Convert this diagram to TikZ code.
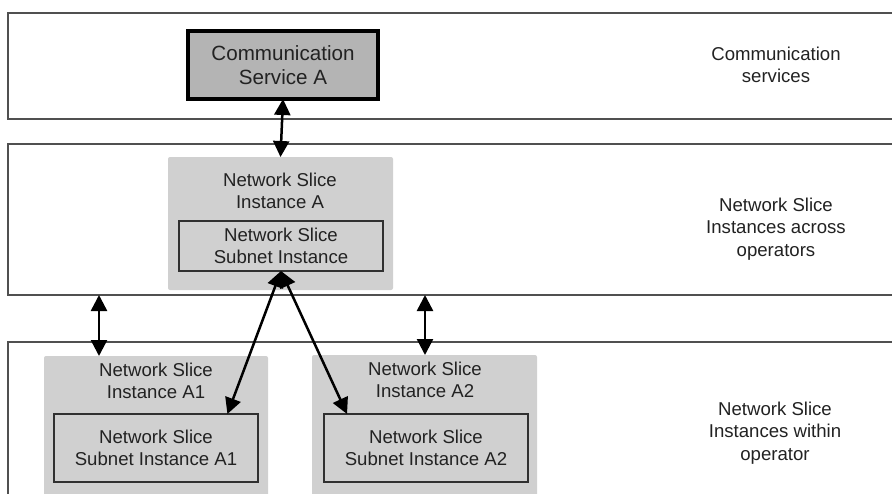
\documentclass[tikz,border=0pt]{standalone}
\usepackage{fontspec}
\setmainfont{Liberation Sans}
\usetikzlibrary{arrows.meta,calc}

\definecolor{layerline}{HTML}{505050}
\definecolor{slicefill}{HTML}{D0D0D0}
\definecolor{servicefill}{HTML}{B4B4B4}
\definecolor{boxline}{HTML}{303030}
\definecolor{txt}{HTML}{222222}

\begin{document}
\begin{tikzpicture}[x=1pt, y=-1pt,
  every node/.style={inner sep=0pt, outer sep=0pt, text=txt, align=center,
                     font=\fontsize{18.6}{22.5}\selectfont},
  layer/.style={draw=layerline, line width=1.3pt, fill=white},
  slice/.style={fill=slicefill, rounded corners=2pt},
  subnet/.style={draw=boxline, line width=1.5pt, fill=slicefill},
  service/.style={draw=black, line width=4pt, fill=servicefill,
                  font=\fontsize{20.6}{23.3}\selectfont},
  link/.style={draw=black, line width=2.5pt,
               {Triangle[length=16pt,width=16pt]}-{Triangle[length=16pt,width=16pt]}}
]
\clip (0,0) rectangle (892,493);
\fill[white] (0,0) rectangle (892,493);

% horizontal layers
\node[layer, minimum width=892pt, minimum height=106pt] (L1) at (454,66) {};
\node[layer, minimum width=892pt, minimum height=151pt] (L2) at (454,219.5) {};
\node[layer, minimum width=892pt, minimum height=168pt] (L3) at (454,426) {};

% layer captions
\node (capA) at (776,65) {Communication\\services};
\node (capB) at (776,229) {Network Slice\\Instances across\\operators};
\node (capC) at (775,433) {Network Slice\\Instances within\\operator};

% communication service
\node[service, minimum width=190pt, minimum height=68pt] (comm) at (283,65)
  {Communication\\Service A};

% slice instance across operators
\node[slice, minimum width=225pt, minimum height=133pt] (nsiA) at (280.5,223.5) {};
\node (tA) at (280,191) {Network Slice\\Instance A};
\node[subnet, minimum width=204pt, minimum height=50pt] (subA) at (281,246)
  {Network Slice\\Subnet Instance};

% slice instances within operator
\node[slice, minimum width=224pt, minimum height=154pt] (nsiA1) at (156,433) {};
\node (tA1) at (156,381) {Network Slice\\Instance A1};
\node[subnet, minimum width=204pt, minimum height=68pt] (subA1) at (156,448)
  {Network Slice\\Subnet Instance A1};

\node[slice, minimum width=225pt, minimum height=155pt] (nsiA2) at (424.5,432.5) {};
\node (tA2) at (425,380) {Network Slice\\Instance A2};
\node[subnet, minimum width=204pt, minimum height=68pt] (subA2) at (426,448)
  {Network Slice\\Subnet Instance A2};

% connector end points
\coordinate (xl) at (99,0);
\coordinate (xr) at (425,0);
\coordinate (inA1) at ($(subA1.north west)!0.85!(subA1.north east)$);
\coordinate (inA2) at ($(subA2.north west)!0.113!(subA2.north east)$);

% connectors
\draw[link] (comm.south) -- (nsiA.north);
\draw[link] (subA.south) -- (inA1);
\draw[link] (subA.south) -- (inA2);
\draw[link] (L2.south -| xl) -- (nsiA1.north -| xl);
\draw[link] (L2.south -| xr) -- (nsiA2.north -| xr);
\end{tikzpicture}
\end{document}
